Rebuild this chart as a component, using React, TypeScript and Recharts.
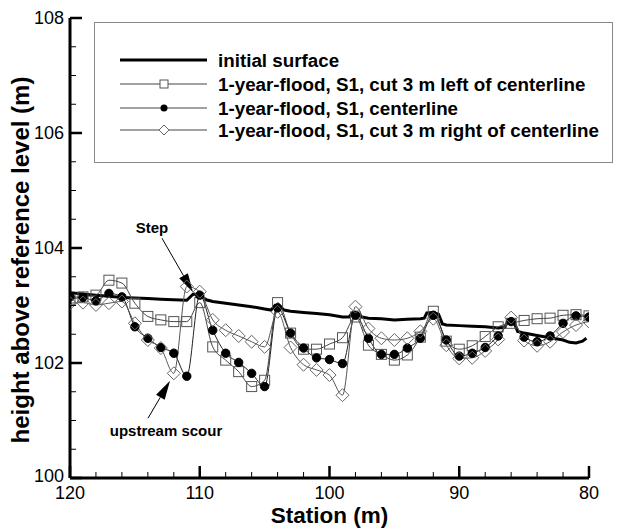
import React from 'react';
import { LineChart, Line, XAxis, YAxis, ReferenceLine, ReferenceDot, Label } from 'recharts';

const FONT = '"Liberation Sans", Arial, Helvetica, sans-serif';

const stations = [120, 119, 118, 117, 116, 115, 114, 113, 112, 111, 110, 109, 108, 107, 106, 105, 104, 103, 102, 101, 100, 99, 98, 97, 96, 95, 94, 93, 92, 91, 90, 89, 88, 87, 86, 85, 84, 83, 82, 81, 80];

const cutLeft = [103.1, 103.15, 103.18, 103.44, 103.39, 103.04, 102.81, 102.75, 102.72, 102.72, 103.05, 102.28, 102.05, 101.85, 101.59, 101.7, 103.05, 102.52, 102.24, 102.24, 102.33, 102.44, 102.8, 102.31, 102.15, 102.05, 102.14, 102.45, 102.9, 102.38, 102.24, 102.3, 102.46, 102.63, 102.69, 102.74, 102.77, 102.78, 102.83, 102.84, 102.82];

const centerline = [103.15, 103.14, 103.08, 103.21, 103.15, 102.63, 102.43, 102.27, 102.17, 101.77, 103.18, 102.57, 102.17, 102.01, 101.82, 101.59, 102.96, 102.52, 102.26, 102.09, 102.06, 101.99, 102.83, 102.43, 102.15, 102.15, 102.26, 102.43, 102.83, 102.4, 102.12, 102.17, 102.27, 102.47, 102.72, 102.45, 102.37, 102.47, 102.69, 102.82, 102.8];

const cutRight = [103.04, 103.05, 103.01, 103.04, 103.07, 102.69, 102.4, 102.26, 101.82, 103.33, 103.24, 102.75, 102.57, 102.47, 102.37, 102.28, 102.89, 102.27, 101.97, 101.88, 101.79, 101.44, 102.98, 102.6, 102.43, 102.4, 102.43, 102.55, 102.77, 102.31, 102.08, 102.09, 102.21, 102.41, 102.79, 102.39, 102.3, 102.37, 102.54, 102.66, 102.72];

const initialStations = [120, 119, 118, 117, 116, 115, 114, 113, 112, 111, 110.5, 110, 109.5, 109, 108, 107, 106, 105, 104.5, 104.2, 103.8, 103.5, 103, 102, 101, 100, 99, 98.5, 98.2, 97.8, 97.5, 97, 96, 95, 94, 93, 92.7, 92.5, 92, 91.6, 91.3, 91, 90, 89, 88, 87, 86.5, 86.2, 85.8, 85.5, 85, 84, 83, 82, 81.5, 81, 80.5, 80.2];
const initialSurface = [103.22, 103.2, 103.18, 103.16, 103.14, 103.13, 103.12, 103.11, 103.1, 103.09, 103.2, 103.18, 103.1, 103.07, 103.04, 103.01, 102.98, 102.94, 102.92, 103.0, 102.98, 102.92, 102.9, 102.88, 102.86, 102.84, 102.8, 102.8, 102.88, 102.86, 102.8, 102.78, 102.77, 102.75, 102.76, 102.77, 102.78, 102.87, 102.88, 102.85, 102.68, 102.66, 102.65, 102.64, 102.63, 102.61, 102.62, 102.75, 102.72, 102.55, 102.52, 102.48, 102.44, 102.4, 102.36, 102.35, 102.38, 102.43];

const xTicks = [120, 118, 116, 114, 112, 110, 108, 106, 104, 102, 100, 98, 96, 94, 92, 90, 88, 86, 84, 82, 80];
const yTicks = [100, 100.5, 101, 101.5, 102, 102.5, 103, 103.5, 104, 104.5, 105, 105.5, 106, 106.5, 107, 107.5, 108];

const legendLabels = [
  'initial surface',
  '1-year-flood, S1, cut 3 m left of centerline',
  '1-year-flood, S1, centerline',
  '1-year-flood, S1, cut 3 m right of centerline',
];

const stepLabel = { text: 'Step', x: 113.68, y: 104.35 };
const stepArrow = { fromX: 112.91, fromY: 104.17, toX: 110.52, toY: 103.23 };
const scourLabel = { text: 'upstream scour', x: 112.6, y: 100.83 };
const scourArrow = { fromX: 113.99, fromY: 101.04, toX: 112.29, toY: 101.69 };

const toPoints = (xs: number[], ys: number[]) => xs.map((x, i) => ({ x, y: ys[i] }));
const initialData = toPoints(initialStations, initialSurface);
const leftData = toPoints(stations, cutLeft);
const centerData = toPoints(stations, centerline);
const rightData = toPoints(stations, cutRight);

const SquareDot = (p: any) => {
  const { cx, cy, index } = p;
  if (cx == null || cy == null) return <g key={index} />;
  return <rect key={index} x={cx - 5} y={cy - 5} width={10} height={10} fill="none" stroke="#555" strokeWidth={1} />;
};
const CircleDot = (p: any) => {
  const { cx, cy, index } = p;
  if (cx == null || cy == null) return <g key={index} />;
  return <circle key={index} cx={cx} cy={cy} r={4.2} fill="#000" stroke="#000" />;
};
const DiamondDot = (p: any) => {
  const { cx, cy, index } = p;
  if (cx == null || cy == null) return <g key={index} />;
  const r = 6.5;
  return <polygon key={index} points={`${cx},${cy - r} ${cx + r},${cy} ${cx},${cy + r} ${cx - r},${cy}`} fill="none" stroke="#666" strokeWidth={1} />;
};

const XTick = (props: any) => {
  const { x, y, payload } = props;
  const v = payload.value;
  const major = v % 10 === 0;
  return (
    <g>
      <line x1={x} y1={y} x2={x} y2={y - (major ? 12 : 6)} stroke="#000" strokeWidth={major ? 2.5 : 1} />
      {major && (
        <text x={x} y={y + 15} textAnchor="middle" dominantBaseline="central" fontSize={18} fontFamily={FONT} fill="#000">
          {v}
        </text>
      )}
    </g>
  );
};

const YTick = (props: any) => {
  const { x, y, payload } = props;
  const v = payload.value;
  const major = v % 2 === 0;
  return (
    <g>
      <line x1={x} y1={y} x2={x + (major ? 12 : 6)} y2={y} stroke="#000" strokeWidth={major ? 2.5 : 1} />
      {major && (
        <text x={x - 6} y={v === 100 ? y - 2 : y} textAnchor="end" dominantBaseline="central" fontSize={18} fontFamily={FONT} fill="#000">
          {v}
        </text>
      )}
    </g>
  );
};

const Arrow = (p: any) => {
  const { x1, y1, x2, y2 } = p;
  if ([x1, y1, x2, y2].some((v) => v == null || isNaN(v))) return <g />;
  const dx = x2 - x1;
  const dy = y2 - y1;
  const len = Math.hypot(dx, dy);
  const ux = dx / len;
  const uy = dy / len;
  const hl = 19;
  const hw = 5;
  const bx = x2 - ux * hl;
  const by = y2 - uy * hl;
  return (
    <g>
      <line x1={x1} y1={y1} x2={bx} y2={by} stroke="#000" strokeWidth={1} />
      <polygon points={`${x2},${y2} ${bx - uy * hw},${by + ux * hw} ${bx + uy * hw},${by - ux * hw}`} fill="#000" />
    </g>
  );
};

const textDot = (text: string) => (p: any) => (
  <text x={p.cx} y={p.cy} textAnchor="middle" dominantBaseline="central" fontSize={15} fontWeight="bold" fontFamily={FONT} fill="#000">
    {text}
  </text>
);

const LegendBox = () => {
  const rows = [38, 62, 86, 108];
  return (
    <div style={{ position: 'absolute', left: 86, top: 14, width: 519, height: 141, border: '1px solid #888', boxSizing: 'border-box', background: '#fff' }}>
      <svg width={519} height={141} style={{ position: 'absolute', left: -1, top: -1 }}>
        {legendLabels.map((label, i) => {
          const y = rows[i];
          return (
            <g key={label}>
              <line x1={26} x2={113} y1={y} y2={y} stroke={i === 0 ? '#000' : '#444'} strokeWidth={i === 0 ? 3 : 1} />
              {i === 1 && <rect x={66} y={y - 4} width={8} height={8} fill="#fff" stroke="#555" />}
              {i === 2 && <circle cx={70} cy={y} r={3.5} fill="#000" />}
              {i === 3 && <polygon points={`70,${y - 5} 75,${y} 70,${y + 5} 65,${y}`} fill="#fff" stroke="#666" />}
              <text x={124} y={y} dominantBaseline="central" fontSize={18.8} fontWeight="bold" fontFamily={FONT} fill="#000">
                {label}
              </text>
            </g>
          );
        })}
      </svg>
    </div>
  );
};

export default function App() {
  return (
    <div style={{ position: 'relative', width: 616, height: 522, background: '#fff' }}>
      <LineChart width={616} height={522} margin={{ top: 10, right: 35, bottom: 0, left: 2 }}>
        <XAxis
          type="number"
          dataKey="x"
          domain={[80, 120]}
          reversed
          ticks={xTicks}
          interval={0}
          tickSize={0}
          tickMargin={0}
          tickLine={false}
          tick={<XTick />}
          axisLine={{ stroke: '#000', strokeWidth: 3 }}
          height={52}
          allowDataOverflow
        >
          <Label
            content={(props: any) => {
              const vb = props.viewBox || {};
              return (
                <text x={vb.x + vb.width / 2} y={vb.y + 37} textAnchor="middle" dominantBaseline="central" fontSize={22.5} fontWeight="bold" fontFamily={FONT} fill="#000">
                  Station (m)
                </text>
              );
            }}
          />
        </XAxis>
        <YAxis
          type="number"
          dataKey="y"
          domain={[100, 108]}
          ticks={yTicks}
          interval={0}
          tickSize={0}
          tickMargin={0}
          tickLine={false}
          tick={<YTick />}
          axisLine={{ stroke: '#000', strokeWidth: 3 }}
          width={60}
          allowDataOverflow
        >
          <Label
            content={(props: any) => {
              const vb = props.viewBox || {};
              const cx = vb.x + 10;
              const cy = vb.y + vb.height / 2 + 12;
              return (
                <text x={cx} y={cy} transform={`rotate(-90 ${cx} ${cy})`} textAnchor="middle" dominantBaseline="central" fontSize={24} fontWeight="bold" fontFamily={FONT} fill="#000">
                  height above reference level (m)
                </text>
              );
            }}
          />
        </YAxis>
        <Line data={initialData} dataKey="y" type="linear" stroke="#000" strokeWidth={3} dot={false} isAnimationActive={false} />
        <Line data={leftData} dataKey="y" type="monotone" stroke="#444" strokeWidth={1} dot={SquareDot} isAnimationActive={false} />
        <Line data={centerData} dataKey="y" type="monotone" stroke="#222" strokeWidth={1} dot={CircleDot} isAnimationActive={false} />
        <Line data={rightData} dataKey="y" type="monotone" stroke="#555" strokeWidth={1} dot={DiamondDot} isAnimationActive={false} />
        <ReferenceLine segment={[{ x: stepArrow.fromX, y: stepArrow.fromY }, { x: stepArrow.toX, y: stepArrow.toY }]} shape={Arrow} />
        <ReferenceLine segment={[{ x: scourArrow.fromX, y: scourArrow.fromY }, { x: scourArrow.toX, y: scourArrow.toY }]} shape={Arrow} />
        <ReferenceDot x={stepLabel.x} y={stepLabel.y} r={0} shape={textDot(stepLabel.text)} />
        <ReferenceDot x={scourLabel.x} y={scourLabel.y} r={0} shape={textDot(scourLabel.text)} />
      </LineChart>
      <LegendBox />
    </div>
  );
}
